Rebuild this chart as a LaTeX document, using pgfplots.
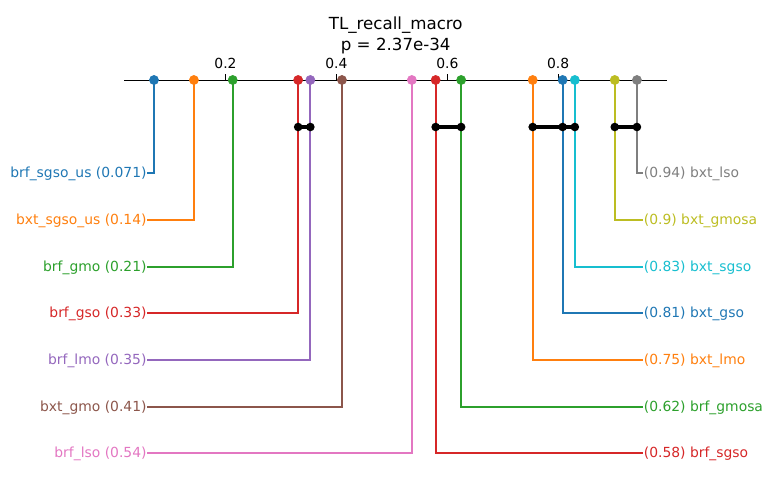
\documentclass[border=0pt]{standalone}
\usepackage{pgfplots}
\pgfplotsset{compat=1.18}
\usepackage{fontspec}
\setmainfont{DejaVu Sans}
\definecolor{tblue}{HTML}{1F77B4}
\definecolor{torange}{HTML}{FF7F0E}
\definecolor{tgreen}{HTML}{2CA02C}
\definecolor{tred}{HTML}{D62728}
\definecolor{tpurple}{HTML}{9467BD}
\definecolor{tbrown}{HTML}{8C564B}
\definecolor{tpink}{HTML}{E377C2}
\definecolor{tgray}{HTML}{7F7F7F}
\definecolor{tolive}{HTML}{BCBD22}
\definecolor{tcyan}{HTML}{17BECF}
\newcommand{\lx}{0.0593}
\newcommand{\rx}{0.9528}
\begin{document}
\begin{tikzpicture}
\begin{axis}[width=557.28pt, height=350.64pt, scale only axis,
  xmin=-0.2067, xmax=1.1892, ymin=0, ymax=487, y dir=reverse,
  axis lines=none, clip=false, every node/.style={font=\fontsize{10pt}{12pt}\selectfont}]
\path (rel axis cs:0,0) rectangle (rel axis cs:1,1);
% axis line
\addplot[black, line width=0.7pt] coordinates {(0.017,80) (0.9965,80)};
% ticks
\addplot[black, line width=0.7pt] coordinates {(0.2,80) (0.2,74.5)};
\addplot[black, line width=0.7pt] coordinates {(0.4,80) (0.4,74.5)};
\addplot[black, line width=0.7pt] coordinates {(0.6,80) (0.6,74.5)};
\addplot[black, line width=0.7pt] coordinates {(0.8,80) (0.8,74.5)};
\node[anchor=base] at (axis cs:0.2,69) {0.2};
\node[anchor=base] at (axis cs:0.4,69) {0.4};
\node[anchor=base] at (axis cs:0.6,69) {0.6};
\node[anchor=base] at (axis cs:0.8,69) {0.8};
% title
\node[font=\fontsize{12pt}{14pt}\selectfont] at (axis cs:0.507,25) {TL\_recall\_macro};
\node[font=\fontsize{12pt}{14pt}\selectfont] at (axis cs:0.507,46) {p = 2.37e-34};
% left side
\addplot[tblue, line width=1.5pt] coordinates {(0.071,80) (0.071,173) (\lx,173)};
\addplot[torange, line width=1.5pt] coordinates {(0.143,80) (0.143,220) (\lx,220)};
\addplot[tgreen, line width=1.5pt] coordinates {(0.213,80) (0.213,267) (\lx,267)};
\addplot[tred, line width=1.5pt] coordinates {(0.331,80) (0.331,313) (\lx,313)};
\addplot[tpurple, line width=1.5pt] coordinates {(0.353,80) (0.353,360) (\lx,360)};
\addplot[tbrown, line width=1.5pt] coordinates {(0.410,80) (0.410,407) (\lx,407)};
\addplot[tpink, line width=1.5pt] coordinates {(0.536,80) (0.536,453) (\lx,453)};
% right side
\addplot[tred, line width=1.5pt] coordinates {(0.579,80) (0.579,453) (\rx,453)};
\addplot[tgreen, line width=1.5pt] coordinates {(0.625,80) (0.625,407) (\rx,407)};
\addplot[torange, line width=1.5pt] coordinates {(0.754,80) (0.754,360) (\rx,360)};
\addplot[tblue, line width=1.5pt] coordinates {(0.808,80) (0.808,313) (\rx,313)};
\addplot[tcyan, line width=1.5pt] coordinates {(0.830,80) (0.830,267) (\rx,267)};
\addplot[tolive, line width=1.5pt] coordinates {(0.902,80) (0.902,220) (\rx,220)};
\addplot[tgray, line width=1.5pt] coordinates {(0.942,80) (0.942,173) (\rx,173)};
% dots
\addplot[only marks, mark=*, mark size=3.3pt, tblue] coordinates {(0.071,80) (0.808,80)};
\addplot[only marks, mark=*, mark size=3.3pt, torange] coordinates {(0.143,80) (0.754,80)};
\addplot[only marks, mark=*, mark size=3.3pt, tgreen] coordinates {(0.213,80) (0.625,80)};
\addplot[only marks, mark=*, mark size=3.3pt, tred] coordinates {(0.331,80) (0.579,80)};
\addplot[only marks, mark=*, mark size=3.3pt, tpurple] coordinates {(0.353,80)};
\addplot[only marks, mark=*, mark size=3.3pt, tbrown] coordinates {(0.410,80)};
\addplot[only marks, mark=*, mark size=3.3pt, tpink] coordinates {(0.536,80)};
\addplot[only marks, mark=*, mark size=3.3pt, tcyan] coordinates {(0.830,80)};
\addplot[only marks, mark=*, mark size=3.3pt, tolive] coordinates {(0.902,80)};
\addplot[only marks, mark=*, mark size=3.3pt, tgray] coordinates {(0.942,80)};
% cliques
\addplot[black, line width=2.4pt, mark=*, mark size=1.8pt] coordinates {(0.331,127) (0.353,127)};
\addplot[black, line width=2.4pt, mark=*, mark size=1.8pt] coordinates {(0.579,127) (0.625,127)};
\addplot[black, line width=2.4pt, mark=*, mark size=1.8pt] coordinates {(0.754,127) (0.808,127) (0.830,127)};
\addplot[black, line width=2.4pt, mark=*, mark size=1.8pt] coordinates {(0.902,127) (0.942,127)};
% labels
\node[anchor=east, text=tblue, inner sep=0.5pt] at (axis cs:\lx,174) {brf\_sgso\_us (0.071)};
\node[anchor=east, text=torange, inner sep=0.5pt] at (axis cs:\lx,221) {bxt\_sgso\_us (0.14)};
\node[anchor=east, text=tgreen, inner sep=0.5pt] at (axis cs:\lx,268) {brf\_gmo (0.21)};
\node[anchor=east, text=tred, inner sep=0.5pt] at (axis cs:\lx,314) {brf\_gso (0.33)};
\node[anchor=east, text=tpurple, inner sep=0.5pt] at (axis cs:\lx,361) {brf\_lmo (0.35)};
\node[anchor=east, text=tbrown, inner sep=0.5pt] at (axis cs:\lx,408) {bxt\_gmo (0.41)};
\node[anchor=east, text=tpink, inner sep=0.5pt] at (axis cs:\lx,454) {brf\_lso (0.54)};
\node[anchor=west, text=tgray, inner sep=0.5pt] at (axis cs:\rx,174) {(0.94) bxt\_lso};
\node[anchor=west, text=tolive, inner sep=0.5pt] at (axis cs:\rx,221) {(0.9) bxt\_gmosa};
\node[anchor=west, text=tcyan, inner sep=0.5pt] at (axis cs:\rx,268) {(0.83) bxt\_sgso};
\node[anchor=west, text=tblue, inner sep=0.5pt] at (axis cs:\rx,314) {(0.81) bxt\_gso};
\node[anchor=west, text=torange, inner sep=0.5pt] at (axis cs:\rx,361) {(0.75) bxt\_lmo};
\node[anchor=west, text=tgreen, inner sep=0.5pt] at (axis cs:\rx,408) {(0.62) brf\_gmosa};
\node[anchor=west, text=tred, inner sep=0.5pt] at (axis cs:\rx,454) {(0.58) brf\_sgso};
\end{axis}
\end{tikzpicture}
\end{document}
